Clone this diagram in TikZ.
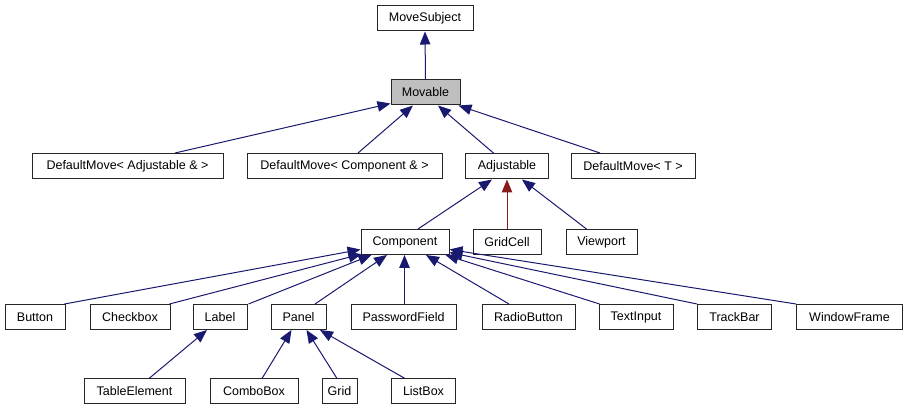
\documentclass[tikz,border=0pt]{standalone}
\usepackage{fontspec}
\setmainfont{Liberation Sans}
\usepackage{tikz}
\usetikzlibrary{arrows.meta}

\definecolor{edgeblue}{HTML}{191970}
\definecolor{edgered}{HTML}{8B1A1A}
\definecolor{boxgray}{HTML}{BFBFBF}

\begin{document}
\begin{tikzpicture}[x = 1pt, y = -1pt,
  cls/.style = {draw = black!85, line width = 1pt, fill = white, minimum height = 25pt,
    inner sep = 0pt, font = \fontsize{12.5}{15}\selectfont},
  inh/.style = {edgeblue, line width = 1pt, -{Triangle[length = 13pt, width = 10.5pt]}},
  inhred/.style = {inh, edgered}]
\useasboundingbox (0, 0) rectangle (908, 411);

\node[cls, minimum width = 96pt] (movesubject) at (425, 18.5) {MoveSubject};
\node[cls, minimum width = 69pt, fill = boxgray] (movable) at (425.5, 92.5) {Movable};

\node[cls, minimum width = 191pt] (dmadj) at (127.5, 166) {DefaultMove< Adjustable \& >};
\node[cls, minimum width = 195pt] (dmcomp) at (344.5, 166) {DefaultMove< Component \& >};
\node[cls, minimum width = 83pt] (adjustable) at (507, 166.5) {Adjustable};
\node[cls, minimum width = 124pt] (dmt) at (633, 166) {DefaultMove< T >};

\node[cls, minimum width = 88pt] (component) at (405, 242) {Component};
\node[cls, minimum width = 68pt] (gridcell) at (507, 242) {GridCell};
\node[cls, minimum width = 71pt] (viewport) at (601.5, 242) {Viewport};

\node[cls, minimum width = 60pt] (button) at (35, 317) {Button};
\node[cls, minimum width = 80pt] (checkbox) at (130, 317) {Checkbox};
\node[cls, minimum width = 54pt] (label) at (220, 317) {Label};
\node[cls, minimum width = 55pt] (panel) at (298.5, 317) {Panel};
\node[cls, minimum width = 105pt] (passwordfield) at (403.5, 317) {PasswordField};
\node[cls, minimum width = 93pt] (radiobutton) at (528.5, 317) {RadioButton};
\node[cls, minimum width = 74pt] (textinput) at (636, 317) {TextInput};
\node[cls, minimum width = 74pt] (trackbar) at (734.5, 317) {TrackBar};
\node[cls, minimum width = 106pt] (windowframe) at (849.5, 317) {WindowFrame};

\node[cls, minimum width = 101pt] (tableelement) at (134.5, 391.5) {TableElement};
\node[cls, minimum width = 88pt] (combobox) at (254, 391.5) {ComboBox};
\node[cls, minimum width = 35pt] (grid) at (339.5, 391.5) {Grid};
\node[cls, minimum width = 64pt] (listbox) at (423.5, 391.5) {ListBox};

\draw[inh] (movable.north) -- (movesubject.south);
\draw[inh] ([xshift = 47.5pt]dmadj.north) -- ([yshift = 2pt]movable.south west);
\draw[inh] ([xshift = 13.5pt]dmcomp.north) -- ([xshift = -12.5pt]movable.south);
\draw[inh] ([xshift = -13pt]adjustable.north) -- ([xshift = 12.5pt]movable.south);
\draw[inh] ([xshift = -33pt]dmt.north) -- ([xshift = -2pt]movable.south east);

\draw[inh] ([xshift = 13pt]component.north) -- ([xshift = -15pt]adjustable.south);
\draw[inhred] (gridcell.north) -- (adjustable.south);
\draw[inh] ([xshift = -15pt]viewport.north) -- ([xshift = 15pt]adjustable.south);

\draw[inh] ([xshift = -1pt]button.north east) -- ([yshift = 5.5pt]component.south west);
\draw[inh] ([xshift = -1pt]checkbox.north east) -- ([xshift = 1pt, yshift = 1pt]component.south west);
\draw[inh] ([xshift = 1pt]label.north east) -- ([xshift = 11pt]component.south west);
\draw[inh] ([xshift = 16.5pt]panel.north) -- ([xshift = -18pt]component.south);
\draw[inh] ([xshift = 1pt]passwordfield.north) -- ([xshift = -0.5pt]component.south);
\draw[inh] ([xshift = -19.5pt]radiobutton.north) -- ([xshift = 21pt]component.south);
\draw[inh] ([xshift = 1pt]textinput.north west) -- ([xshift = -4pt]component.south east);
\draw[inh] (trackbar.north west) -- ([yshift = 2.5pt]component.south east);
\draw[inh] (windowframe.north west) -- ([yshift = 5.5pt]component.south east);

\draw[inh] ([xshift = 14.5pt]tableelement.north) -- ([xshift = -13pt]label.south);
\draw[inh] ([xshift = 8pt]combobox.north) -- ([xshift = -7pt]panel.south);
\draw[inh] ([xshift = -2.5pt]grid.north) -- ([xshift = 8pt]panel.south);
\draw[inh] ([xshift = -18.5pt]listbox.north) -- ([xshift = 21.5pt]panel.south);
\end{tikzpicture}
\end{document}
